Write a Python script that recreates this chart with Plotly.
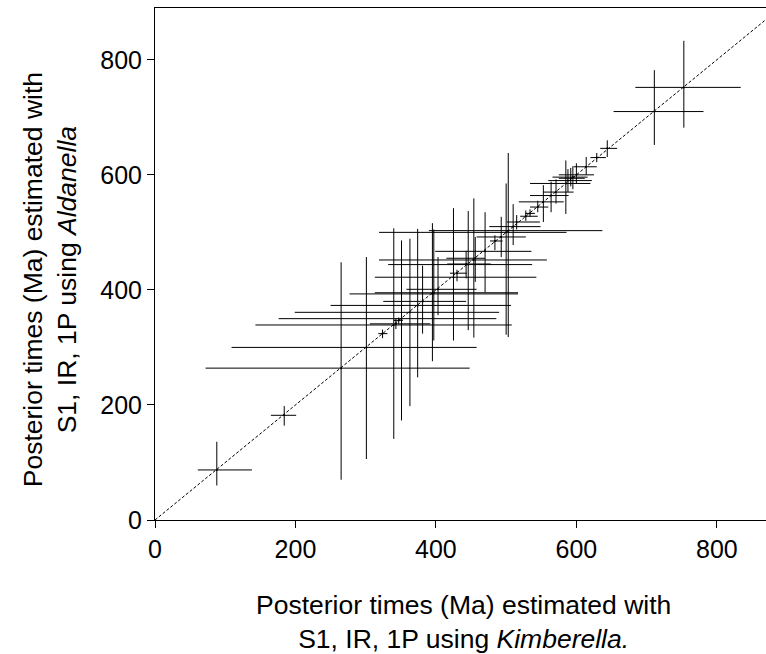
import plotly.graph_objects as go

# Posterior time estimates (Ma): Kimberella (x) vs Aldanella (y), with 95% intervals
x_mean = [88, 184, 265, 301, 324, 340, 343, 347, 351, 363, 374, 381, 395, 397, 403, 425, 430,
          446, 443, 454, 456, 470, 484, 493, 500, 503, 510, 515, 528, 534, 545, 553, 564, 571,
          585, 588, 592, 595, 600, 614, 629, 644, 711, 753]
x_low = [61, 165, 72, 109, 318, 143, 306, 340, 176, 199, 250, 325, 277, 313, 358, 313, 420,
         332, 416, 319, 415, 399, 477, 458, 319, 390, 476, 501, 520, 527, 534, 518, 534, 553,
         534, 560, 575, 566, 575, 596, 620, 634, 653, 684]
x_high = [138, 201, 448, 458, 331, 508, 392, 353, 486, 490, 507, 443, 517, 517, 458, 543, 444,
          537, 478, 558, 470, 536, 495, 528, 586, 637, 549, 548, 545, 541, 560, 582, 589, 596,
          620, 622, 612, 616, 625, 629, 642, 658, 781, 834]
y_mean = [87, 182, 264, 300, 324, 339, 341, 347, 350, 361, 373, 380, 393, 395, 401, 422, 429,
          444, 445, 452, 455, 467, 485, 492, 500, 503, 510, 518, 528, 533, 544, 553, 564, 570,
          585, 590, 594, 596, 600, 614, 630, 646, 710, 752]
y_low = [60, 164, 70, 106, 316, 141, 332, 341, 173, 198, 248, 324, 276, 312, 356, 312, 415,
         330, 420, 317, 414, 396, 469, 457, 322, 318, 478, 505, 520, 527, 535, 518, 535, 550,
         532, 570, 580, 575, 585, 600, 622, 631, 652, 682]
y_high = [136, 198, 448, 457, 331, 507, 351, 352, 486, 489, 506, 442, 516, 505, 457, 542, 435,
          537, 468, 559, 492, 535, 495, 527, 585, 638, 549, 530, 538, 540, 555, 582, 588, 592,
          625, 610, 612, 615, 620, 631, 638, 660, 782, 833]

x_ticks = [0, 200, 400, 600, 800]
y_ticks = [0, 200, 400, 600, 800]
x_range = [0, 870]
y_range = [0, 890]
diag = [0, 1000]

FONT = "Liberation Sans, Arial, Helvetica, sans-serif"

fig = go.Figure()

fig.add_trace(go.Scatter(
    x=diag, y=diag, mode="lines",
    line=dict(color="black", width=1, dash="3px,2px"),
    hoverinfo="skip", showlegend=False,
))

fig.add_trace(go.Scatter(
    x=x_mean, y=y_mean, mode="markers",
    marker=dict(size=2, color="black"),
    error_x=dict(type="data", symmetric=False,
                 array=[h - m for h, m in zip(x_high, x_mean)],
                 arrayminus=[m - l for m, l in zip(x_mean, x_low)],
                 color="black", thickness=1, width=0),
    error_y=dict(type="data", symmetric=False,
                 array=[h - m for h, m in zip(y_high, y_mean)],
                 arrayminus=[m - l for m, l in zip(y_mean, y_low)],
                 color="black", thickness=1, width=0),
    showlegend=False,
))

axis_common = dict(
    showgrid=False, zeroline=False, showline=True, linecolor="black", linewidth=1,
    ticks="outside", ticklen=7, tickwidth=1, tickcolor="black",
    tickfont=dict(family=FONT, size=25, color="black"),
)

fig.update_layout(
    width=766, height=654,
    margin=dict(l=155, r=0, t=8, b=134),
    paper_bgcolor="white", plot_bgcolor="white",
    font=dict(family=FONT, color="black"),
    xaxis=dict(range=x_range, tickvals=x_ticks, mirror=True, **axis_common),
    yaxis=dict(range=y_range, tickvals=y_ticks, mirror=False, **axis_common),
    annotations=[
        dict(text="Posterior times (Ma) estimated with<br>S1, IR, 1P using <i>Kimberella.</i>",
             x=0.505, y=-0.20, xref="paper", yref="paper",
             xanchor="center", yanchor="middle", showarrow=False,
             font=dict(family=FONT, size=26.5, color="black")),
        dict(text="Posterior times (Ma) estimated with<br>S1, IR, 1P using <i>Aldanella</i>",
             x=-0.172, y=0.47, xref="paper", yref="paper", textangle=-90,
             xanchor="center", yanchor="middle", showarrow=False,
             font=dict(family=FONT, size=26.5, color="black")),
    ],
)

fig.write_html(
    "out.html",
    config={"displayModeBar": False},
    post_script="document.body.style.margin='0';document.body.style.overflow='hidden';",
)
